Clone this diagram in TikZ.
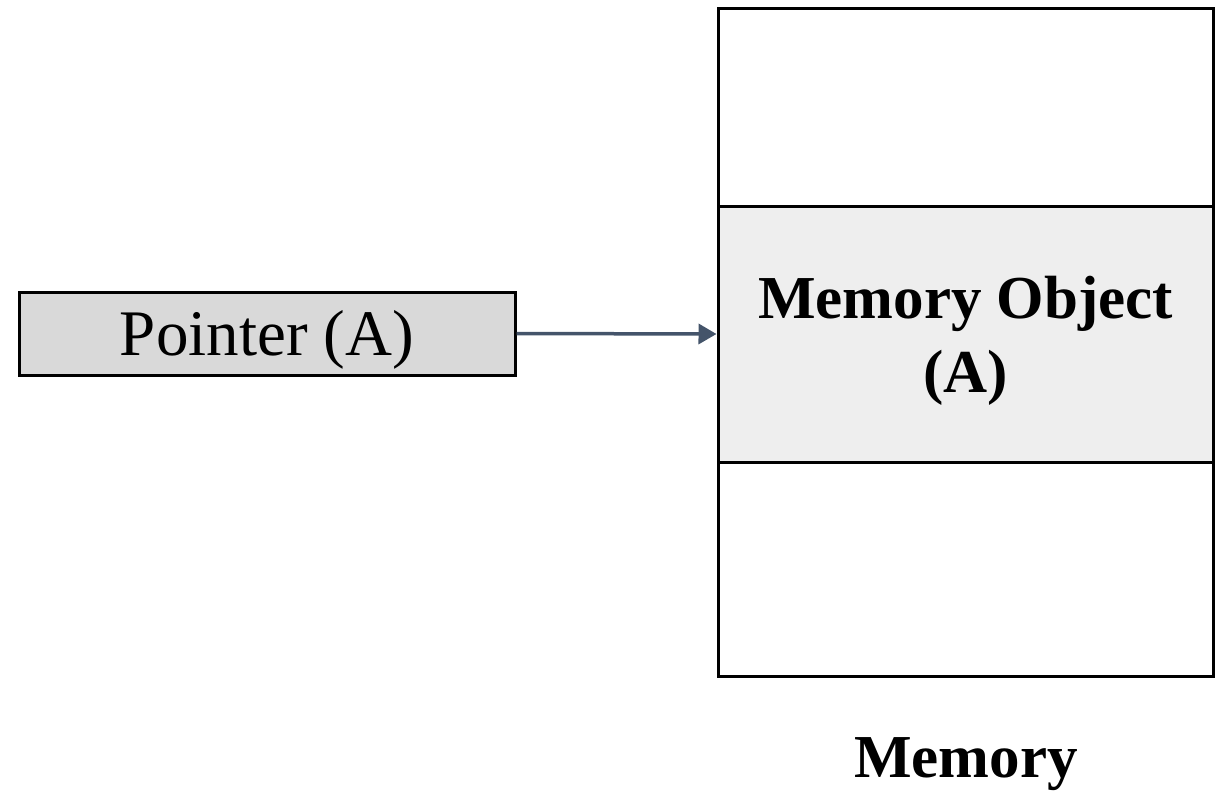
\documentclass[tikz,border=0pt]{standalone}
\usepackage{fontspec}
\setmainfont{Liberation Serif}
\usetikzlibrary{arrows.meta}
\definecolor{ptrfill}{HTML}{D9D9D9}
\definecolor{objfill}{HTML}{EEEEEE}
\definecolor{arrowcol}{HTML}{44546A}
\begin{document}
\begin{tikzpicture}[x=1pt,y=-1pt,
  cellbox/.style={draw=black,line width=3pt,rectangle,inner sep=0pt,minimum width=495pt,fill=white},
  ptrbox/.style={draw=black,line width=3pt,rectangle,inner sep=0pt,minimum width=496pt,minimum height=83pt,fill=ptrfill,font=\fontsize{65}{72}\selectfont},
  boldlabel/.style={font=\fontsize{61}{74}\selectfont\bfseries,align=center},
  ptrarrow/.style={draw=arrowcol,line width=3.5pt,-{Triangle[length=18pt,width=20pt]}}
]
\useasboundingbox (0,0) rectangle (1225,790);
\node[ptrbox,text depth=2pt] (ptr) at (267,333.5) {Pointer (A)};
\node[cellbox,minimum height=198pt] (top) at (965.5,107) {};
\node[cellbox,minimum height=256pt,fill=objfill] (obj) at (965.5,334) {};
\node[cellbox,minimum height=214pt] (bot) at (965.5,569) {};
\node[boldlabel] (objtext) at (965.5,341) {Memory Object\\(A)};
\node[boldlabel,anchor=base] (memlabel) at (966,777) {Memory};
\draw[ptrarrow] (ptr.east) -- (obj.west);
\end{tikzpicture}
\end{document}
